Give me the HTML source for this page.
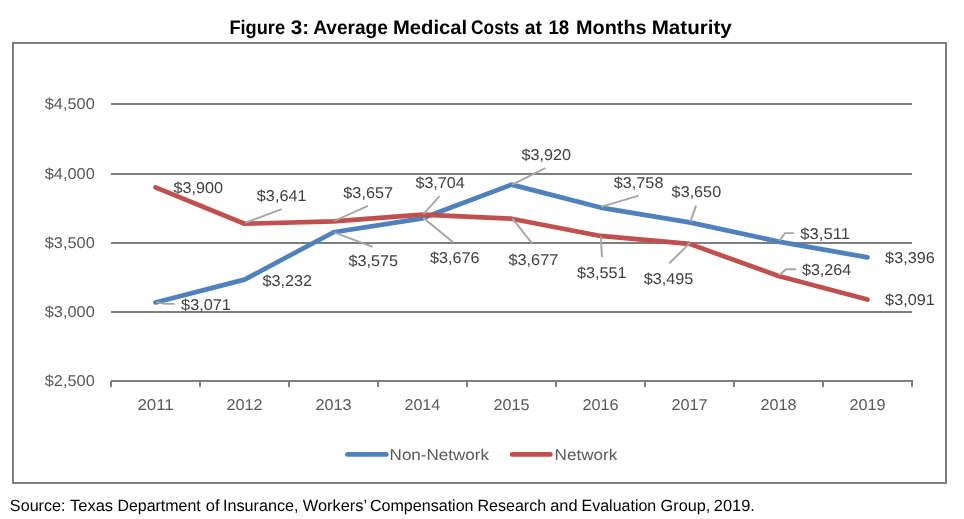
<!DOCTYPE html>
<html lang="en">
<head>
<meta charset="utf-8">
<title>Figure 3: Average Medical Costs at 18 Months Maturity</title>
<style>
html,body{margin:0;padding:0;background:#fff;}
body{width:964px;height:519px;overflow:hidden;position:relative;font-family:"Liberation Sans",sans-serif;}
svg{position:absolute;left:0;top:0;display:block;will-change:transform;text-rendering:geometricPrecision;}
text{white-space:pre;}
.t{font-family:"Liberation Sans",sans-serif;font-weight:bold;font-size:19.6px;fill:#000;}
.l{font-family:"Liberation Sans",sans-serif;font-size:15.6px;fill:#595959;}
.d{font-family:"Liberation Sans",sans-serif;font-size:15.6px;fill:#404040;}
.lg{font-family:"Liberation Sans",sans-serif;font-size:15.6px;fill:#595959;}
.s{font-family:"Liberation Sans",sans-serif;font-size:16.2px;fill:#000;}
</style>
</head>
<body>
<svg width="964" height="519" viewBox="0 0 964 519">
<rect x="0" y="0" width="964" height="519" fill="#ffffff"/>
<text class="t" y="34"><tspan x="229.38" textLength="55.64" lengthAdjust="spacingAndGlyphs">Figure</tspan> <tspan x="290.83" textLength="18.36" lengthAdjust="spacingAndGlyphs">3:</tspan> <tspan x="313.23" textLength="74.53" lengthAdjust="spacingAndGlyphs">Average</tspan> <tspan x="392.95" textLength="74.18" lengthAdjust="spacingAndGlyphs">Medical</tspan> <tspan x="471.09" textLength="48.12" lengthAdjust="spacingAndGlyphs">Costs</tspan> <tspan x="524.83" textLength="17.20" lengthAdjust="spacingAndGlyphs">at</tspan> <tspan x="548.43" textLength="20.75" lengthAdjust="spacingAndGlyphs">18</tspan> <tspan x="575.97" textLength="70.64" lengthAdjust="spacingAndGlyphs">Months</tspan> <tspan x="651.72" textLength="79.99" lengthAdjust="spacingAndGlyphs">Maturity</tspan></text>
<rect x="13" y="43" width="933" height="440" fill="#ffffff" stroke="#7f7f7f" stroke-width="2"/>
<g stroke="#7f7f7f" stroke-width="2" fill="none">
<line x1="111" y1="104" x2="912" y2="104"/>
<line x1="111" y1="174" x2="912" y2="174"/>
<line x1="111" y1="243" x2="912" y2="243"/>
<line x1="111" y1="312" x2="912" y2="312"/>
<line x1="111" y1="381" x2="913" y2="381"/>
<line x1="111" y1="381" x2="111" y2="387"/>
<line x1="200" y1="381" x2="200" y2="387"/>
<line x1="289" y1="381" x2="289" y2="387"/>
<line x1="378" y1="381" x2="378" y2="387"/>
<line x1="467" y1="381" x2="467" y2="387"/>
<line x1="556" y1="381" x2="556" y2="387"/>
<line x1="645" y1="381" x2="645" y2="387"/>
<line x1="734" y1="381" x2="734" y2="387"/>
<line x1="823" y1="381" x2="823" y2="387"/>
<line x1="912" y1="381" x2="912" y2="387"/>
</g>
<g class="l">
<text y="109" x="44.72" textLength="50.01" lengthAdjust="spacingAndGlyphs">$4,500</text>
<text y="179" x="44.72" textLength="50.01" lengthAdjust="spacingAndGlyphs">$4,000</text>
<text y="248" x="44.72" textLength="50.01" lengthAdjust="spacingAndGlyphs">$3,500</text>
<text y="317" x="44.72" textLength="50.01" lengthAdjust="spacingAndGlyphs">$3,000</text>
<text y="386" x="44.72" textLength="50.01" lengthAdjust="spacingAndGlyphs">$2,500</text>
<text y="410" x="137.40" textLength="36.27" lengthAdjust="spacingAndGlyphs">2011</text>
<text y="410" x="226.43" textLength="36.24" lengthAdjust="spacingAndGlyphs">2012</text>
<text y="410" x="315.43" textLength="36.13" lengthAdjust="spacingAndGlyphs">2013</text>
<text y="410" x="404.44" textLength="35.88" lengthAdjust="spacingAndGlyphs">2014</text>
<text y="410" x="493.43" textLength="36.10" lengthAdjust="spacingAndGlyphs">2015</text>
<text y="410" x="582.43" textLength="36.13" lengthAdjust="spacingAndGlyphs">2016</text>
<text y="410" x="671.43" textLength="36.24" lengthAdjust="spacingAndGlyphs">2017</text>
<text y="410" x="760.43" textLength="36.12" lengthAdjust="spacingAndGlyphs">2018</text>
<text y="410" x="849.43" textLength="36.19" lengthAdjust="spacingAndGlyphs">2019</text>
</g>
<polyline points="155.50,302.42 244.50,279.62 333.50,232.21 422.50,218.32 511.50,184.63 600.50,207.57 689.50,222.42 778.50,241.58 867.50,257.40" fill="none" stroke="#4f81bd" stroke-width="4.7" stroke-linecap="round" stroke-linejoin="round"/>
<polyline points="155.50,187.30 244.50,223.77 333.50,221.36 422.50,214.55 511.50,218.69 600.50,235.94 689.50,243.89 778.50,275.99 867.50,299.55" fill="none" stroke="#c0504d" stroke-width="4.7" stroke-linecap="round" stroke-linejoin="round"/>
<g stroke="#a6a6a6" stroke-width="1.9" fill="none">
<polyline points="245.3,222.9 281.7,209.1"/>
<polyline points="334.2,221.0 367.9,205.9"/>
<polyline points="334.2,232.3 372.6,246.9"/>
<polyline points="423.2,214.4 439.6,196.1"/>
<polyline points="423.2,217.7 453.4,242.5"/>
<polyline points="512.2,218.3 532.5,243.9"/>
<polyline points="512.3,184.7 545.5,168.0"/>
<polyline points="601.1,206.8 638.7,195.7"/>
<polyline points="600.9,236.3 601.9,257.2"/>
<polyline points="690.2,221.9 696.1,205.6"/>
<polyline points="690.3,242.6 669.3,263.3"/>
<polyline points="779.2,240.9 785.0,233.1 794.0,233.1"/>
<polyline points="779.2,275.3 785.9,269.2 796.0,269.2"/>
<polyline points="156.4,302.3 165.0,303.9 174.8,303.9"/>
</g>
<g class="d">
<text y="193" x="173.43" textLength="49.51" lengthAdjust="spacingAndGlyphs">$3,900</text>
<text y="201" x="256.83" textLength="49.67" lengthAdjust="spacingAndGlyphs">$3,641</text>
<text y="198" x="343.33" textLength="49.69" lengthAdjust="spacingAndGlyphs">$3,657</text>
<text y="188" x="415.43" textLength="49.35" lengthAdjust="spacingAndGlyphs">$3,704</text>
<text y="265" x="508.53" textLength="49.69" lengthAdjust="spacingAndGlyphs">$3,677</text>
<text y="278" x="576.93" textLength="49.67" lengthAdjust="spacingAndGlyphs">$3,551</text>
<text y="284" x="643.83" textLength="49.55" lengthAdjust="spacingAndGlyphs">$3,495</text>
<text y="275" x="801.93" textLength="49.35" lengthAdjust="spacingAndGlyphs">$3,264</text>
<text y="305" x="885.13" textLength="49.67" lengthAdjust="spacingAndGlyphs">$3,091</text>
<text y="310" x="181.13" textLength="49.67" lengthAdjust="spacingAndGlyphs">$3,071</text>
<text y="286" x="262.43" textLength="49.69" lengthAdjust="spacingAndGlyphs">$3,232</text>
<text y="266" x="348.43" textLength="49.55" lengthAdjust="spacingAndGlyphs">$3,575</text>
<text y="263" x="430.03" textLength="49.59" lengthAdjust="spacingAndGlyphs">$3,676</text>
<text y="160" x="521.43" textLength="49.51" lengthAdjust="spacingAndGlyphs">$3,920</text>
<text y="188" x="613.83" textLength="49.58" lengthAdjust="spacingAndGlyphs">$3,758</text>
<text y="197" x="671.63" textLength="49.51" lengthAdjust="spacingAndGlyphs">$3,650</text>
<text y="239" x="800.32" textLength="49.69" lengthAdjust="spacingAndGlyphs">$3,511</text>
<text y="263" x="885.13" textLength="49.59" lengthAdjust="spacingAndGlyphs">$3,396</text>
</g>
<line x1="347.4" y1="454.4" x2="386.3" y2="454.4" stroke="#4f81bd" stroke-width="4.7" stroke-linecap="round"/>
<text class="lg" y="460" x="389.60" textLength="99.37" lengthAdjust="spacingAndGlyphs">Non-Network</text>
<line x1="512.1" y1="454.4" x2="550.3" y2="454.4" stroke="#c0504d" stroke-width="4.7" stroke-linecap="round"/>
<text class="lg" y="460" x="554.60" textLength="62.68" lengthAdjust="spacingAndGlyphs">Network</text>
<text class="s" y="511"><tspan x="9.87" textLength="55.71" lengthAdjust="spacingAndGlyphs">Source:</tspan> <tspan x="69.98" textLength="43.12" lengthAdjust="spacingAndGlyphs">Texas</tspan> <tspan x="117.39" textLength="83.33" lengthAdjust="spacingAndGlyphs">Department</tspan> <tspan x="205.71" textLength="13.77" lengthAdjust="spacingAndGlyphs">of</tspan> <tspan x="223.01" textLength="75.55" lengthAdjust="spacingAndGlyphs">Insurance,</tspan> <tspan x="302.83" textLength="63.68" lengthAdjust="spacingAndGlyphs">Workers’</tspan> <tspan x="369.98" textLength="103.56" lengthAdjust="spacingAndGlyphs">Compensation</tspan> <tspan x="477.38" textLength="68.76" lengthAdjust="spacingAndGlyphs">Research</tspan> <tspan x="550.25" textLength="27.30" lengthAdjust="spacingAndGlyphs">and</tspan> <tspan x="581.59" textLength="74.65" lengthAdjust="spacingAndGlyphs">Evaluation</tspan> <tspan x="660.58" textLength="49.78" lengthAdjust="spacingAndGlyphs">Group,</tspan> <tspan x="713.77" textLength="41.13" lengthAdjust="spacingAndGlyphs">2019.</tspan></text>
</svg>
</body>
</html>
